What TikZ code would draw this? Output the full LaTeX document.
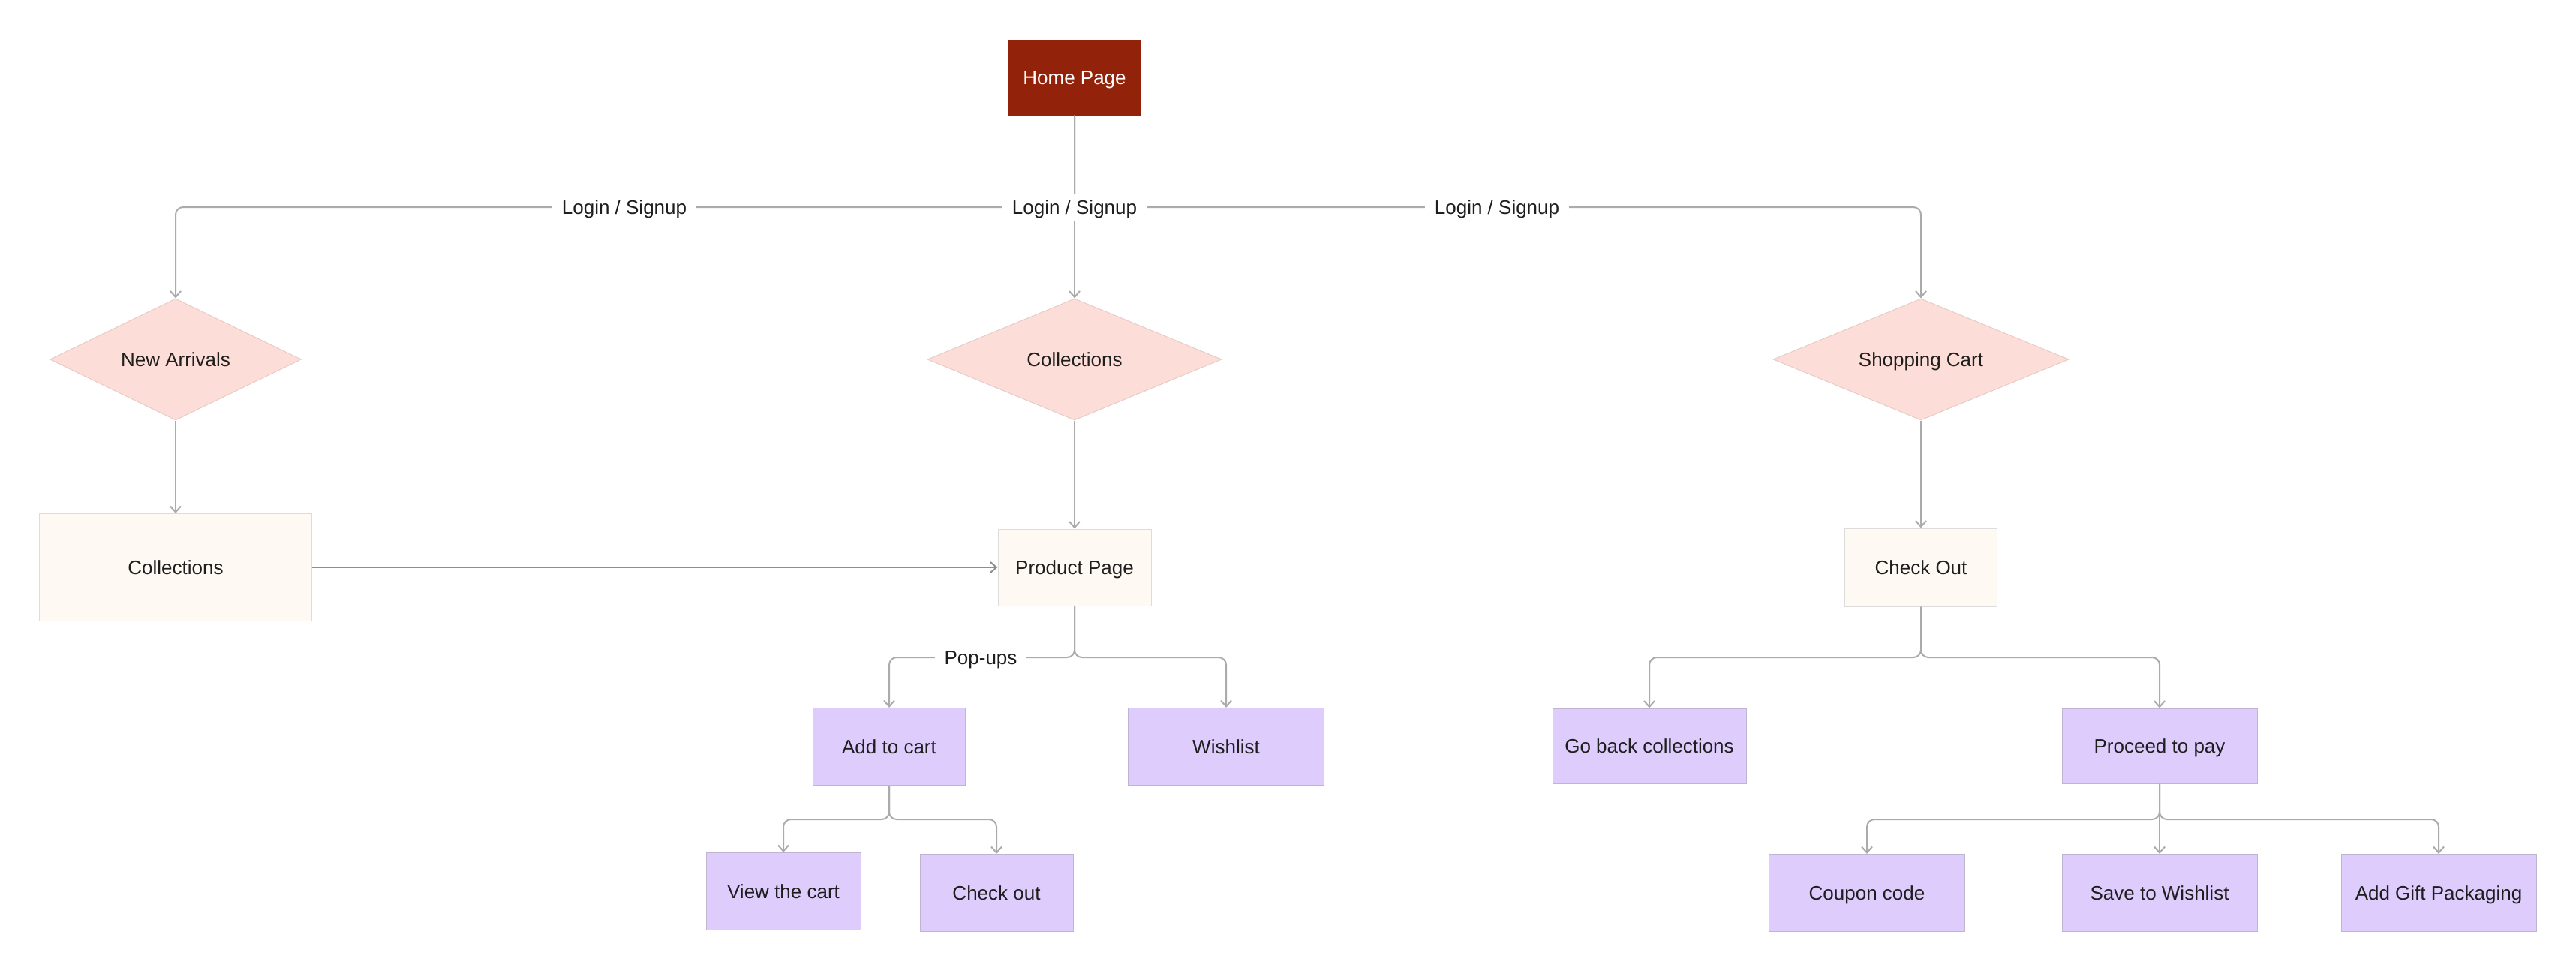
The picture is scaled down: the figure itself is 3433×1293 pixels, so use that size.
\documentclass[tikz,border=0pt]{standalone}
\usepackage{fontspec}
\setmainfont{Liberation Sans}
\usetikzlibrary{shapes.geometric,arrows.meta}

\definecolor{homered}{HTML}{92230A}
\definecolor{blush}{HTML}{FDDDD7}
\definecolor{blushline}{HTML}{E6CCC7}
\definecolor{cream}{HTML}{FFF9F3}
\definecolor{creamline}{HTML}{DCDCDC}
\definecolor{lilac}{HTML}{DDCCFC}
\definecolor{lilacline}{HTML}{BFB4D2}
\definecolor{wire}{HTML}{ABABAB}
\definecolor{wiredark}{HTML}{8E8E8E}
\definecolor{ink}{HTML}{1E1E1E}

\begin{document}
\begin{tikzpicture}[x=1pt,y=-1pt,
  every node/.style={font=\fontsize{26}{30}\selectfont, text=ink, text height=24pt, text depth=5pt},
  base/.style={inner sep=0pt, draw, line width=1pt},
  homebox/.style={base, rectangle, fill=homered, draw=homered, text=white},
  decision/.style={base, diamond, shape aspect=2.4, fill=blush, draw=blushline, minimum height=162pt},
  pagebox/.style={base, rectangle, fill=cream, draw=creamline},
  actionbox/.style={base, rectangle, fill=lilac, draw=lilacline, minimum height=103pt},
  conn/.style={draw=wire, line width=2pt, -{Straight Barb[length=8pt,width=14pt]}},
  elbow/.style={conn, rounded corners=10pt},
  tag/.style={fill=white, inner xsep=13pt, inner ysep=3pt},
]
\useasboundingbox (0,0) rectangle (3433,1293);

% entry point
\node[homebox, minimum width=175pt, minimum height=100pt] (home) at (1432,103) {Home Page};

% decision level
\node[decision, minimum width=335pt] (arrivals) at (234,479) {New Arrivals};
\node[decision, minimum width=392pt] (collections) at (1432,479) {Collections};
\node[decision, minimum width=394pt] (cart) at (2560,479) {Shopping Cart};

% page level
\node[pagebox, minimum width=363pt, minimum height=143pt] (colbox) at (234,756) {Collections};
\node[pagebox, minimum width=204pt, minimum height=102pt] (product) at (1432,756) {Product Page};
\node[pagebox, minimum width=203pt, minimum height=104pt] (checkoutpg) at (2560,756) {Check Out};

% actions
\node[actionbox, minimum width=203pt] (addcart) at (1185,995) {Add to cart};
\node[actionbox, minimum width=261pt] (wishlist) at (1634,995) {Wishlist};
\node[actionbox, minimum width=206pt] (viewcart) at (1044,1188) {View the cart};
\node[actionbox, minimum width=204pt] (checkout) at (1328,1190) {Check out};
\node[actionbox, minimum width=258pt, minimum height=100pt] (goback) at (2198,994) {Go back collections};
\node[actionbox, minimum width=260pt, minimum height=100pt] (proceed) at (2878,994) {Proceed to pay};
\node[actionbox, minimum width=261pt] (coupon) at (2488,1190) {Coupon code};
\node[actionbox, minimum width=260pt] (savewl) at (2878,1190) {Save to Wishlist};
\node[actionbox, minimum width=260pt] (gift) at (3250,1190) {Add Gift Packaging};

% fork points
\coordinate (homefork) at (1432,276);
\coordinate (prodfork) at (1432,876);
\coordinate (addfork) at (1185,1092);
\coordinate (outfork) at (2560,876);
\coordinate (payfork) at (2878,1092);

% connectors
\draw[elbow] (home.south) -- (homefork) -| (arrivals.north);
\draw[conn] (home.south) -- (collections.north);
\draw[elbow] (home.south) -- (homefork) -| (cart.north);

\draw[conn] (arrivals.south) -- (colbox.north);
\draw[conn] (collections.south) -- (product.north);
\draw[conn] (cart.south) -- (checkoutpg.north);
\draw[conn, draw=wiredark] (colbox.east) -- (product.west);

\draw[elbow] (product.south) -- (prodfork) -| (addcart.north);
\draw[elbow] (product.south) -- (prodfork) -| (wishlist.north);

\draw[elbow] (addcart.south) -- (addfork) -| (viewcart.north);
\draw[elbow] (addcart.south) -- (addfork) -| (checkout.north);

\draw[elbow] (checkoutpg.south) -- (outfork) -| (goback.north);
\draw[elbow] (checkoutpg.south) -- (outfork) -| (proceed.north);

\draw[elbow] (proceed.south) -- (payfork) -| (coupon.north);
\draw[conn] (proceed.south) -- (savewl.north);
\draw[elbow] (proceed.south) -- (payfork) -| (gift.north);

% connector labels
\node[tag] (loginL) at (832,276) {Login / Signup};
\node[tag] (loginC) at (1432,276) {Login / Signup};
\node[tag] (loginR) at (1995,276) {Login / Signup};
\node[tag] (popups) at (1307,876) {Pop-ups};
\end{tikzpicture}
\end{document}
